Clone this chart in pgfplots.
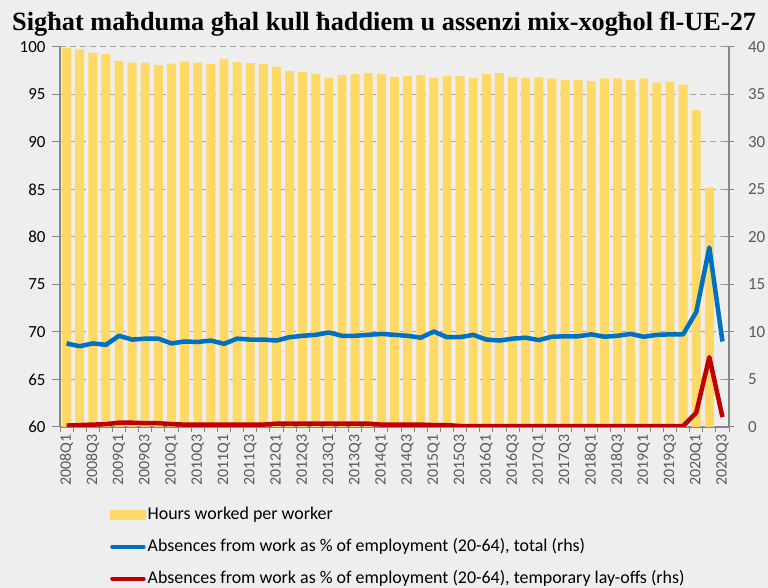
\documentclass[border=0pt]{standalone}
\usepackage{pgfplots}
\pgfplotsset{compat=1.18}
\usepackage{pgfplotstable}
\usepackage{fontspec}
\setmainfont{Carlito}
\newfontfamily\titlefont{Liberation Serif}
\definecolor{bg}{HTML}{EEEEEE}
\definecolor{baryel}{HTML}{FFD966}
\definecolor{blu}{HTML}{0070C0}
\definecolor{rd}{HTML}{C00000}
\definecolor{tickgray}{HTML}{595959}
\definecolor{axgray}{HTML}{868686}
\definecolor{gridgray}{HTML}{A6A6A6}

\pgfplotstableread{
x y
0 99.9
1 99.75
2 99.4
3 99.25
4 98.55
5 98.35
6 98.35
7 98.1
8 98.25
9 98.45
10 98.35
11 98.2
12 98.75
13 98.4
14 98.3
15 98.2
16 97.9
17 97.45
18 97.35
19 97.15
20 96.75
21 97.05
22 97.15
23 97.25
24 97.15
25 96.85
26 96.95
27 97.05
28 96.75
29 96.95
30 96.95
31 96.75
32 97.15
33 97.25
34 96.85
35 96.75
36 96.8
37 96.7
38 96.55
39 96.55
40 96.4
41 96.7
42 96.7
43 96.5
44 96.7
45 96.25
46 96.35
47 96.05
48 93.35
49 85.2
}\hours

\pgfplotstableread{
x y
0 8.8
1 8.5
2 8.8
3 8.65
4 9.6
5 9.2
6 9.3
7 9.3
8 8.8
9 9.0
10 8.95
11 9.1
12 8.75
13 9.3
14 9.2
15 9.2
16 9.1
17 9.45
18 9.6
19 9.7
20 9.95
21 9.6
22 9.6
23 9.7
24 9.8
25 9.7
26 9.6
27 9.4
28 10.05
29 9.45
30 9.45
31 9.7
32 9.2
33 9.1
34 9.3
35 9.4
36 9.15
37 9.5
38 9.55
39 9.55
40 9.75
41 9.5
42 9.6
43 9.8
44 9.5
45 9.7
46 9.75
47 9.75
48 12.1
49 18.9
50 9.0
}\total

\pgfplotstableread{
x y
0 0.15
1 0.2
2 0.25
3 0.3
4 0.45
5 0.45
6 0.4
7 0.4
8 0.3
9 0.25
10 0.25
11 0.25
12 0.25
13 0.25
14 0.25
15 0.25
16 0.35
17 0.35
18 0.35
19 0.35
20 0.35
21 0.35
22 0.35
23 0.35
24 0.25
25 0.25
26 0.25
27 0.25
28 0.2
29 0.2
30 0.1
31 0.1
32 0.1
33 0.1
34 0.1
35 0.1
36 0.1
37 0.1
38 0.1
39 0.1
40 0.1
41 0.1
42 0.1
43 0.1
44 0.1
45 0.1
46 0.1
47 0.1
48 1.5
49 7.35
50 1.05
}\layoff

\begin{document}
\begin{tikzpicture}[x=1bp,y=1bp]
\fill[bg] (0,0) rectangle (768,588);
\path[use as bounding box] (0,0) rectangle (768,588);
\node[anchor=base west, inner sep=0pt, font=\titlefont\bfseries\fontsize{26.4}{30}\selectfont] at (12,557) {Sigħat maħduma għal kull ħaddiem u assenzi mix-xogħol fl-UE-27};

\begin{axis}[
  at={(60bp,161bp)}, anchor=south west,
  scale only axis, width=669bp, height=380bp,
  xmin=-0.5, xmax=50.5, ymin=60, ymax=100,
  axis y line*=left, axis x line*=bottom,
  axis line style={draw=axgray, line width=1.3bp, -},
  ytick={60,65,...,100},
  ymajorgrids,
  grid style={gridgray, line width=1bp, dash pattern=on 6bp off 4bp},
  tick align=outside,
  major tick length=8bp, minor tick length=5bp,
  every tick/.style={draw=axgray, line width=1bp},
  xtick={0,2,...,50},
  xticklabels={2008Q1,2008Q3,2009Q1,2009Q3,2010Q1,2010Q3,2011Q1,2011Q3,2012Q1,2012Q3,2013Q1,2013Q3,2014Q1,2014Q3,2015Q1,2015Q3,2016Q1,2016Q3,2017Q1,2017Q3,2018Q1,2018Q3,2019Q1,2019Q3,2020Q1,2020Q3},
  major x tick style={draw=none},
  minor xtick={-0.5,0.5,...,50.5},
  xticklabel style={rotate=90, anchor=east, font=\fontsize{16}{16}\selectfont, text=tickgray, xshift=4bp},
  yticklabel style={font=\fontsize{17}{17}\selectfont, text=black, xshift=-3bp},
  /pgf/number format/assume math mode=true,
]
\addplot[ybar, bar width=0.68, fill=baryel, draw=none] table {\hours};
\end{axis}

\begin{axis}[
  at={(60bp,161bp)}, anchor=south west,
  scale only axis, width=669bp, height=380bp,
  xmin=-0.5, xmax=50.5, ymin=0, ymax=40,
  axis y line*=right, axis x line=none,
  axis line style={draw=axgray, line width=1.3bp, -},
  ytick={0,5,...,40},
  tick align=center,
  major tick length=9bp,
  every tick/.style={draw=axgray, line width=1bp},
  yticklabel style={font=\fontsize{17}{17}\selectfont, text=tickgray, xshift=11bp},
  /pgf/number format/assume math mode=true,
  legend style={at={(0.0747,-0.203)}, anchor=north west, draw=none, fill=none, inner sep=0pt,
    font=\fontsize{18}{18}\selectfont, row sep=11bp, column sep=0bp,
    nodes={inner sep=2bp, text height=13bp, text depth=4bp}, cells={anchor=west}},
  legend cell align=left,
]
\addlegendimage{legend image code/.code={\fill[baryel] (0bp,-4.3bp) rectangle (35bp,4.3bp);}}
\addlegendentry{Hours worked per worker}
\addplot[blu, line width=4.5bp, line join=round,
  legend image code/.code={\draw[blu, line width=4.5bp, line cap=round] (2bp,0bp) -- (33bp,0bp);}] table {\total};
\addlegendentry{Absences from work as \% of employment (20-64), total (rhs)}
\addplot[rd, line width=4.5bp, line join=round,
  legend image code/.code={\draw[rd, line width=4.5bp, line cap=round] (2bp,0bp) -- (33bp,0bp);}] table {\layoff};
\addlegendentry{Absences from work as \% of employment (20-64), temporary lay-offs (rhs)}
\end{axis}
\end{tikzpicture}
\end{document}
